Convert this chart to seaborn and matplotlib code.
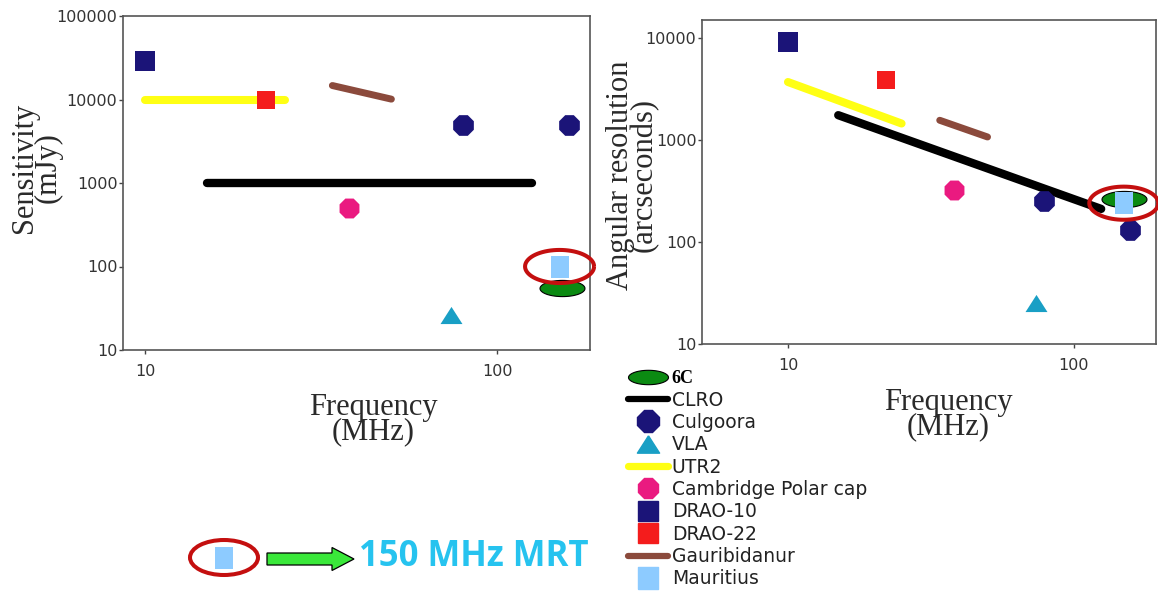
import numpy as np
import matplotlib
matplotlib.use("Agg")
import matplotlib.pyplot as plt
import seaborn as sns
from matplotlib.lines import Line2D
from matplotlib.patches import Ellipse, Rectangle, FancyArrow
from matplotlib.ticker import NullLocator

# ---------------- data (frequency in MHz) ----------------
drao10_freq = [10]
drao10_sens = [29000]
drao10_res = [9200]

drao22_freq = [22]
drao22_sens = [10000]
drao22_res = [3900]

culgoora_freq = [80, 160]
culgoora_sens = [5000, 5000]
culgoora_res_freq = [79, 158]
culgoora_res = [255, 130]

cambridge_freq = [38]
cambridge_sens = [500]
cambridge_res = [325]

vla_freq = [74]
vla_sens = [26]
vla_res = [25]

mauritius_freq = [150]
mauritius_sens = [100]
mauritius_res = [240]

sixc_freq = [152]
sixc_sens = [56]
sixc_res_freq = [150]
sixc_res = [265]

utr2_freq = [10, 25]
utr2_sens = [10000, 10000]
utr2_res = [3700, 1450]

clro_freq = [15, 125]
clro_sens = [1000, 1000]
clro_res = [1750, 211]

gauri_freq = [34, 50]
gauri_sens = [14700, 10100]
gauri_res = [1560, 1070]

sens_ticks = [10, 100, 1000, 10000, 100000]
res_ticks = [10, 100, 1000, 10000]
freq_ticks = [10, 100]

legend_labels = ["6C", "CLRO", "Culgoora", "VLA", "UTR2", "Cambridge Polar cap",
                 "DRAO-10", "DRAO-22", "Gauribidanur", "Mauritius"]

# ---------------- styles ----------------
NAVY = "#1b1478"
RED = "#f41c1c"
YELLOW = "#ffff14"
BROWN = "#8b4a3c"
PINK = "#ea1a80"
CYAN = "#199fc5"
LBLUE = "#8dcbff"
GREEN = "#0b8a12"
RING = "#c40f0f"

t = np.linspace(0, 2 * np.pi, 73)
ELL = np.column_stack([np.cos(t), 0.36 * np.sin(t)])
RINGM = np.column_stack([np.cos(t), 0.48 * np.sin(t)])
RECT = np.array([[-0.87, -1], [0.87, -1], [0.87, 1], [-0.87, 1], [-0.87, -1]])
TRI = np.array([[0, 0.78], [-1, -0.78], [1, -0.78], [0, 0.78]])

sns.set_style("ticks")
plt.rcParams["font.family"] = ["DejaVu Sans"]

fig = plt.figure(figsize=(11.58, 5.92), dpi=100)
W, H = 1158.0, 592.0


def px_axes(x0, y0, x1, y1):
    return fig.add_axes([x0 / W, 1 - y1 / H, (x1 - x0) / W, (y1 - y0) / H])


ax1 = px_axes(123, 16, 590, 350)
ax2 = px_axes(702, 20, 1156, 344)

for ax in (ax1, ax2):
    ax.set_xscale("log")
    ax.set_yscale("log")


def draw(ax, panel):
    (drao10_y, drao22_y, culg_x, culg_y, camb_y, vla_y, maur_y, sixc_x, sixc_y,
     utr2_y, clro_y, gauri_y) = panel
    kw = dict(ax=ax, legend=False)
    sns.lineplot(x=utr2_freq, y=utr2_y, color=YELLOW, linewidth=5.8,
                 solid_capstyle="round", estimator=None, sort=False, zorder=2, **kw)
    sns.lineplot(x=clro_freq, y=clro_y, color="black", linewidth=6.0,
                 solid_capstyle="round", estimator=None, sort=False, zorder=2, **kw)
    sns.lineplot(x=gauri_freq, y=gauri_y, color=BROWN, linewidth=5.0,
                 solid_capstyle="round", estimator=None, sort=False, zorder=2, **kw)
    sns.scatterplot(x=drao10_freq, y=drao10_y, marker="s", s=196, color=NAVY,
                    linewidth=0, zorder=3, **kw)
    sns.scatterplot(x=drao22_freq, y=drao22_y, marker="s", s=175, color=RED,
                    linewidth=0, zorder=3, **kw)
    sns.scatterplot(x=culg_x, y=culg_y, marker="8", s=260, color=NAVY,
                    linewidth=0, zorder=3, **kw)
    sns.scatterplot(x=cambridge_freq, y=camb_y, marker="8", s=240, color=PINK,
                    linewidth=0, zorder=3, **kw)
    sns.scatterplot(x=vla_freq, y=vla_y, marker=TRI, s=250, color=CYAN,
                    linewidth=0, zorder=3, **kw)
    sns.scatterplot(x=sixc_x, y=sixc_y, marker=ELL, s=1050, color=GREEN,
                    edgecolor="black", linewidth=0.8, zorder=4, **kw)
    sns.scatterplot(x=mauritius_freq, y=maur_y, marker=RECT, s=230, color=LBLUE,
                    linewidth=0, zorder=5, **kw)
    sns.scatterplot(x=mauritius_freq, y=maur_y, marker=RINGM, s=2470,
                    facecolors="none", edgecolors=RING, linewidth=2.9,
                    zorder=6, **kw)
    for c in ax.collections:
        c.set_clip_on(False)


draw(ax1, (drao10_sens, drao22_sens, culgoora_freq, culgoora_sens,
           cambridge_sens, vla_sens, mauritius_sens, sixc_freq, sixc_sens,
           utr2_sens, clro_sens, gauri_sens))
draw(ax2, (drao10_res, drao22_res, culgoora_res_freq, culgoora_res,
           cambridge_res, vla_res, mauritius_res, sixc_res_freq, sixc_res,
           utr2_res, clro_res, gauri_res))

ax1.set_xlim(8.66, 183)
ax1.set_ylim(10, 100000)
ax2.set_xlim(5.0, 194.5)
ax2.set_ylim(10, 15000)

for ax, yt in ((ax1, sens_ticks), (ax2, res_ticks)):
    ax.set_xticks(freq_ticks, labels=[str(v) for v in freq_ticks])
    ax.set_yticks(yt, labels=[str(v) for v in yt])
    ax.xaxis.set_minor_locator(NullLocator())
    ax.yaxis.set_minor_locator(NullLocator())
    ax.tick_params(axis="both", direction="out", length=3, width=1,
                   color="#444444", labelsize=11.5, labelcolor="#333333")
    ax.tick_params(axis="x", pad=7)
    ax.tick_params(axis="y", pad=1)
    ax.set_xlabel("")
    ax.set_ylabel("")
    for sp in ax.spines.values():
        sp.set_visible(True)
        sp.set_color("#555555")
        sp.set_linewidth(1.2)

serif = dict(family=["Liberation Serif", "DejaVu Serif"], fontsize=22, color="#2a2a2a")
fig.text(373 / W, 1 - 393 / H, "Frequency\n(MHz)", ha="center", va="top",
         linespacing=0.8, **serif)
fig.text(948 / W, 1 - 388 / H, "Frequency\n(MHz)", ha="center", va="top",
         linespacing=0.8, **serif)
fig.text(36 / W, 1 - 168 / H, "Sensitivity\n(mJy)", ha="center", va="center",
         rotation=90, linespacing=0.75, **serif)
fig.text(632 / W, 1 - 175 / H, "Angular resolution\n(arcseconds)", ha="center",
         va="center", rotation=90, linespacing=0.75, **serif)

# ---------------- legend ----------------
handles = [
    Line2D([], [], linestyle="none", marker=ELL, markersize=28.8,
           markerfacecolor=GREEN, markeredgecolor="black", markeredgewidth=0.8),
    Line2D([], [], color="black", linewidth=4.5, solid_capstyle="round"),
    Line2D([], [], linestyle="none", marker="8", markersize=16.5, color=NAVY),
    Line2D([], [], linestyle="none", marker=TRI, markersize=16, color=CYAN),
    Line2D([], [], color=YELLOW, linewidth=5.2, solid_capstyle="round"),
    Line2D([], [], linestyle="none", marker="8", markersize=16, color=PINK),
    Line2D([], [], linestyle="none", marker="s", markersize=14.4, color=NAVY),
    Line2D([], [], linestyle="none", marker="s", markersize=14.4, color=RED),
    Line2D([], [], color=BROWN, linewidth=4.5, solid_capstyle="round"),
    Line2D([], [], linestyle="none", marker=RECT, markersize=16, color=LBLUE),
]
leg = fig.legend(handles, legend_labels, loc="upper left",
                 bbox_to_anchor=(628 / W, 1 - 370 / H), frameon=False,
                 borderpad=0, borderaxespad=0, handlelength=2.13,
                 handletextpad=0.2, labelspacing=0.18,
                 prop={"family": "DejaVu Sans", "size": 13.5})
for txt in leg.get_texts():
    txt.set_color("#222222")
leg.get_texts()[0].set_fontfamily(["Liberation Serif", "DejaVu Serif"])
leg.get_texts()[0].set_fontweight("bold")
leg.get_texts()[0].set_fontsize(13)
leg.get_texts()[0].set_color("black")

# ---------------- annotation ----------------
ov = fig.add_axes([0, 0, 1, 1], zorder=10)
ov.set_xlim(0, W)
ov.set_ylim(H, 0)
ov.axis("off")
ov.patch.set_alpha(0)
ov.add_patch(Ellipse((224, 557.5), 68, 35, fill=False, edgecolor=RING, linewidth=2.9))
ov.add_patch(Rectangle((215, 547), 18, 22, facecolor=LBLUE, edgecolor="none"))
ov.add_patch(FancyArrow(267, 559, 65, 0, width=12, head_width=23, head_length=22,
                        length_includes_head=False, facecolor="#3ae83a",
                        edgecolor="black", linewidth=0.9))
ov.text(359, 557, "150 MHz MRT", color="#26c3ef", fontsize=25, fontweight="bold",
        family=["Open Sans", "DejaVu Sans"], ha="left", va="center")

fig.savefig("out.png", dpi=100)
